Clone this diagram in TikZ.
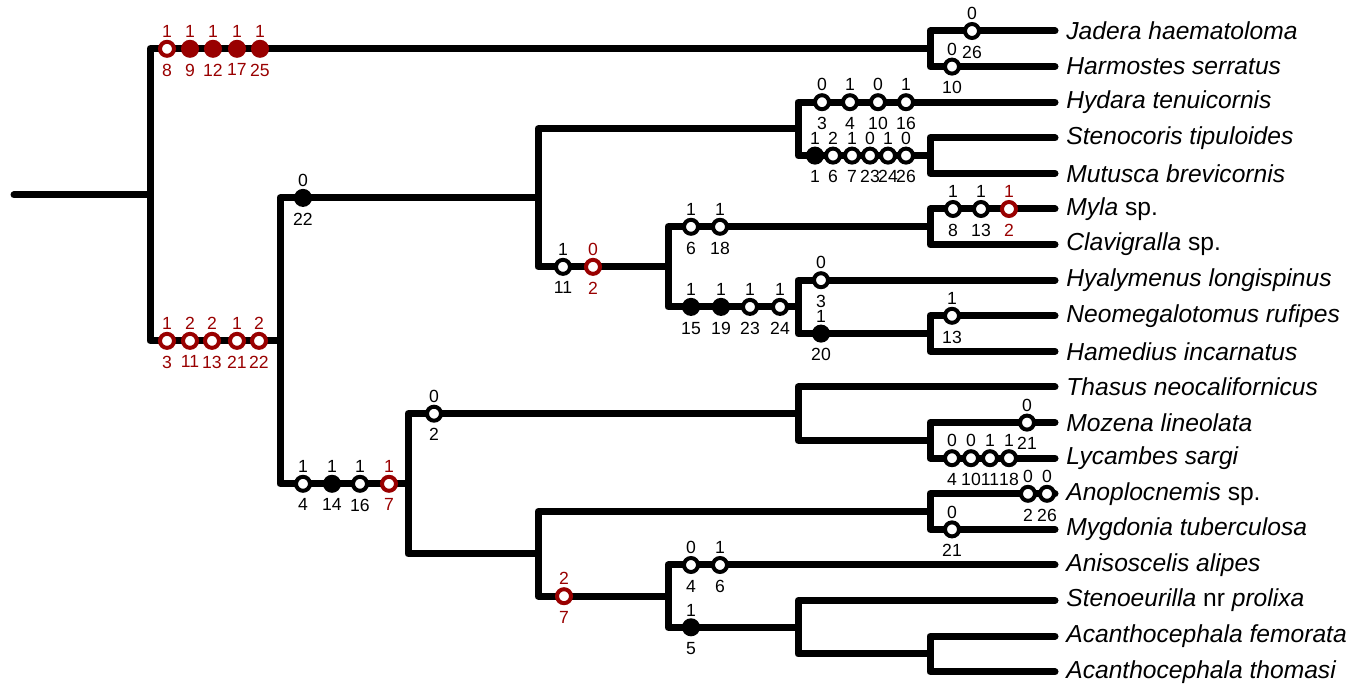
\documentclass[tikz,border=0pt]{standalone}
\usepackage{fontspec}
\setmainfont{Liberation Sans}
\usepackage{tikz}
\usetikzlibrary{positioning}
\definecolor{State_red}{rgb}{0.6, 0.0, 0.0}
\newcommand{\statefont}{\fontsize{8.8}{10}\selectfont}
\newcommand{\taxonfont}{\fontsize{12.3}{14}\selectfont}
\tikzset{
  branch/.style={line width=3.5pt, line cap=round, line join=round},
  chg/.style={circle, draw=black, fill=white, line width=2pt, minimum size=7pt, inner sep=0pt},
  syn/.style={chg, fill=black},
  chgred/.style={chg, draw=State_red},
  synred/.style={chgred, fill=State_red},
  every label/.style={font=\statefont, inner sep=1.3pt},
  up/.style={yshift=-0.4pt},
  dn/.style={yshift=-1.5pt},
  taxon/.style={anchor=west, inner sep=1pt, font=\taxonfont}
}

\begin{document}
\begin{tikzpicture}[x=0.5pt, y=-0.5pt]
        \useasboundingbox (0,0) rectangle (1357,684);
        \coordinate (base) at (14,194.8);
        \coordinate (root) at (150,194.8);
        \coordinate (jadhar) at (930,48.8);
        \coordinate (lowc) at (280,340.85);
        \coordinate (cA) at (538,197.9);
        \coordinate (hyd0) at (798,128.9);
        \coordinate (stemut) at (930,155.6);
        \coordinate (mh) at (668,266.85);
        \coordinate (mylcla) at (930,226.8);
        \coordinate (hyaneo) at (798,306.9);
        \coordinate (neoham) at (930,333.6);
        \coordinate (cB) at (408,483.8);
        \coordinate (thaly) at (798,413.7);
        \coordinate (mozlyc) at (930,440.4);
        \coordinate (cB2) at (538,553.9);
        \coordinate (anomyg) at (930,511.6);
        \coordinate (anis0) at (668,596.2);
        \coordinate (steac) at (798,627.3);
        \coordinate (acan) at (930,653.95);
        \foreach \n/\y/\t in {jad/31/{\textit{Jadera haematoloma}}, har/66.6/{\textit{Harmostes serratus}},
            hyd/102.2/{\textit{Hydara tenuicornis}}, ste/137.8/{\textit{Stenocoris tipuloides}},
            mut/173.4/{\textit{Mutusca brevicornis}}, myl/209/{\textit{Myla} sp.},
            cla/244.6/{\textit{Clavigralla} sp.}, hya/280.2/{\textit{Hyalymenus longispinus}},
            neo/315.8/{\textit{Neomegalotomus rufipes}}, ham/351.4/{\textit{Hamedius incarnatus}},
            tha/387/{\textit{Thasus neocalifornicus}}, moz/422.6/{\textit{Mozena lineolata}},
            lyc/458.2/{\textit{Lycambes sargi}}, ano/493.8/{\textit{Anoplocnemis} sp.},
            myg/529.4/{\textit{Mygdonia tuberculosa}}, ani/565/{\textit{Anisoscelis alipes}},
            sto/600.6/{\textit{Stenoeurilla} nr \textit{prolixa}}, acf/636.2/{\textit{Acanthocephala femorata}},
            act/671.8/{\textit{Acanthocephala thomasi}}}
        {
            \coordinate (\n) at (1055,\y);
            \node[taxon] (\n-lab) at (1064,\y) {\t};
        }
        \draw[branch] (base) -- (root);
        \foreach \p/\c in {root/jadhar, root/lowc, jadhar/jad, jadhar/har, lowc/cA, lowc/cB,
            cA/hyd0, cA/mh, hyd0/hyd, hyd0/stemut, stemut/ste, stemut/mut,
            mh/mylcla, mh/hyaneo, mylcla/myl, mylcla/cla, hyaneo/hya, hyaneo/neoham,
            neoham/neo, neoham/ham, cB/thaly, cB/cB2, thaly/tha, thaly/mozlyc,
            mozlyc/moz, mozlyc/lyc, cB2/anomyg, cB2/anis0, anomyg/ano, anomyg/myg,
            anis0/ani, anis0/steac, steac/sto, steac/acan, acan/acf, acan/act}
            \draw[branch] (\p) |- (\c);
        \foreach \s/\c/\x/\y/\up/\dn [count=\i] in {
            chgred/State_red/167/48.8/1/8, synred/State_red/190/48.8/1/9, synred/State_red/213/48.8/1/12,
            synred/State_red/237/48.8/1/17, synred/State_red/260/48.8/1/25,
            chg/black/972/31/0/26, chg/black/952/66.6/0/10,
            chgred/State_red/167/340.85/1/3, chgred/State_red/190/340.85/2/11, chgred/State_red/212/340.85/2/13,
            chgred/State_red/237/340.85/1/21, chgred/State_red/259/340.85/2/22,
            syn/black/303/197.9/0/22,
            chg/black/822/102.2/0/3, chg/black/850/102.2/1/4, chg/black/878/102.2/0/10, chg/black/906/102.2/1/16,
            syn/black/815/155.6/1/1, chg/black/833/155.6/2/6, chg/black/852/155.6/1/7,
            chg/black/870/155.6/0/23, chg/black/888/155.6/1/24, chg/black/906/155.6/0/26,
            chg/black/563/266.85/1/11, chgred/State_red/593/266.85/0/2,
            chg/black/691/226.8/1/6, chg/black/720/226.8/1/18,
            chg/black/953/209/1/8, chg/black/981/209/1/13, chgred/State_red/1009/209/1/2,
            syn/black/691/306.9/1/15, syn/black/721/306.9/1/19, chg/black/750/306.9/1/23, chg/black/780/306.9/1/24,
            chg/black/821/280.2/0/3, syn/black/821/333.6/1/20, chg/black/952/315.8/1/13,
            chg/black/303/483.8/1/4, syn/black/332/483.8/1/14, chg/black/360/483.8/1/16, chgred/State_red/389/483.8/1/7,
            chg/black/434/413.7/0/2, chg/black/1027/422.6/0/21,
            chg/black/952/458.2/0/4, chg/black/971/458.2/0/10, chg/black/990/458.2/1/11, chg/black/1009/458.2/1/18,
            chg/black/1028/493.8/0/2, chg/black/1047/493.8/0/26, chg/black/952/529.4/0/21,
            chgred/State_red/564/596.2/2/7, chg/black/691/565/0/4, chg/black/720/565/1/6, syn/black/691/627.3/1/5}
            \node[\s, label={[up, text=\c]above:\up}, label={[dn, text=\c]below:\dn}] (m\i) at (\x,\y) {};
    \end{tikzpicture}
\end{document}
